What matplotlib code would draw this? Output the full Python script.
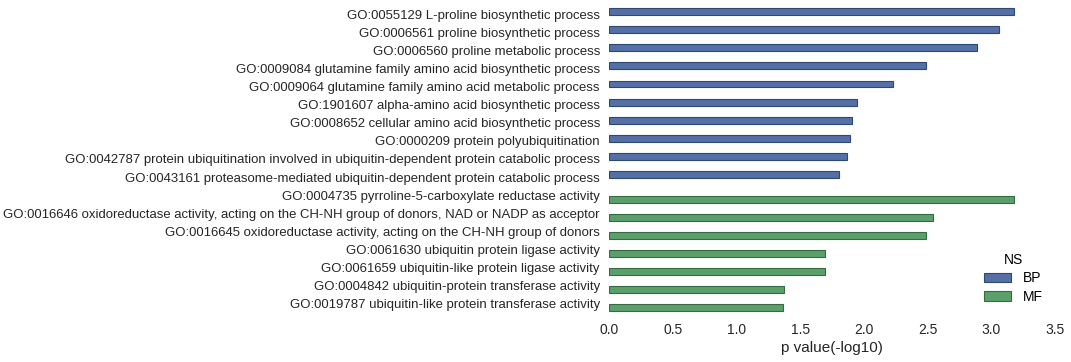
import matplotlib
matplotlib.use('Agg')
from matplotlib import pyplot as plt
import numpy as np

plt.rcParams['font.family'] = ['Liberation Sans', 'DejaVu Sans']

bp_terms = [
    'GO:0055129 L-proline biosynthetic process',
    'GO:0006561 proline biosynthetic process',
    'GO:0006560 proline metabolic process',
    'GO:0009084 glutamine family amino acid biosynthetic process',
    'GO:0009064 glutamine family amino acid metabolic process',
    'GO:1901607 alpha-amino acid biosynthetic process',
    'GO:0008652 cellular amino acid biosynthetic process',
    'GO:0000209 protein polyubiquitination',
    'GO:0042787 protein ubiquitination involved in ubiquitin-dependent protein catabolic process',
    'GO:0043161 proteasome-mediated ubiquitin-dependent protein catabolic process',
]
bp_values = [3.18, 3.057, 2.885, 2.486, 2.228, 1.947, 1.908, 1.889, 1.869, 1.806]

mf_terms = [
    'GO:0004735 pyrroline-5-carboxylate reductase activity',
    'GO:0016646 oxidoreductase activity, acting on the CH-NH group of donors, NAD or NADP as acceptor',
    'GO:0016645 oxidoreductase activity, acting on the CH-NH group of donors',
    'GO:0061630 ubiquitin protein ligase activity',
    'GO:0061659 ubiquitin-like protein ligase activity',
    'GO:0004842 ubiquitin-protein transferase activity',
    'GO:0019787 ubiquitin-like protein transferase activity',
]
mf_values = [3.18, 2.546, 2.486, 1.697, 1.697, 1.376, 1.366]

blue = '#5470a6'
green = '#5b9f6b'

fig = plt.figure(figsize=(10.71, 3.62), dpi=100)
ax = fig.add_axes([609 / 1071, 1 - 313 / 362, (1055 - 609) / 1071, (313 - 5) / 362])

y_bp = np.arange(len(bp_terms))
y_mf = np.arange(len(mf_terms)) + len(bp_terms)

ax.barh(y_bp - 0.14, bp_values, height=0.38, color=blue, edgecolor='#2f4870',
        linewidth=0.8, label='BP')
ax.barh(y_mf + 0.22, mf_values, height=0.38, color=green, edgecolor='#356b42',
        linewidth=0.8, label='MF')

ax.set_yticks(np.arange(len(bp_terms) + len(mf_terms)))
ax.set_yticklabels(bp_terms + mf_terms, fontsize=9.45, color='#262626')
ax.set_ylim(len(bp_terms) + len(mf_terms) - 0.5, -0.5)
ax.set_xlim(0, 3.5)
ax.set_xticks(np.arange(0, 3.51, 0.5))
ax.tick_params(axis='x', labelsize=10, colors='#262626', length=0, pad=7)
ax.tick_params(axis='y', length=0, pad=6.5)
ax.set_xlabel('p value(-log10)', fontsize=11, color='#262626', labelpad=3)
for s in ax.spines.values():
    s.set_visible(False)

leg = ax.legend(title='NS', loc='lower right', frameon=False, fontsize=10,
                title_fontsize=10, handlelength=2, labelspacing=0.3,
                bbox_to_anchor=(1.0, -0.01))

fig.savefig('out.png', dpi=100)
